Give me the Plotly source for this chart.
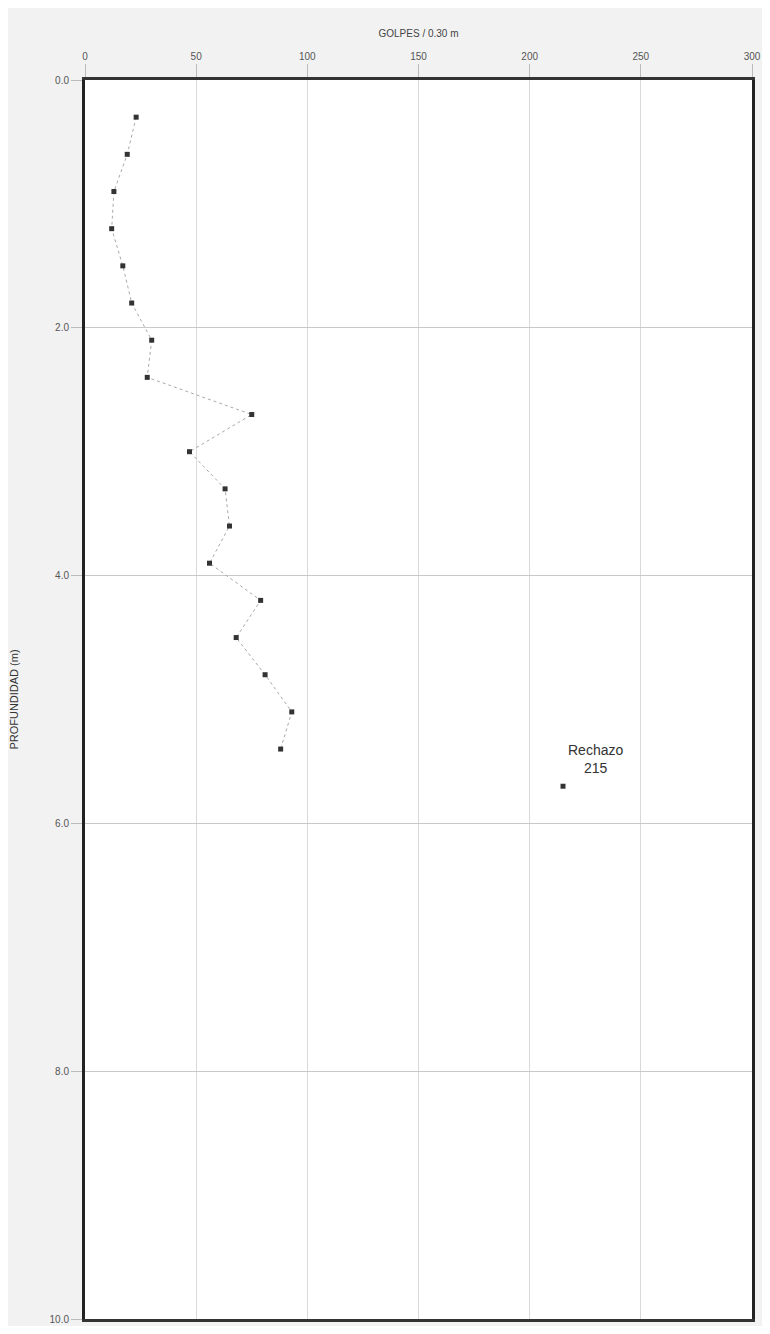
import plotly.graph_objects as go

# Data
depths = [0.3, 0.6, 0.9, 1.2, 1.5, 1.8, 2.1, 2.4, 2.7, 3.0, 3.3, 3.6, 3.9, 4.2, 4.5, 4.8, 5.1, 5.4]
golpes = [23, 19, 13, 12, 17, 21, 30, 28, 75, 47, 63, 65, 56, 79, 68, 81, 93, 88]
rechazo_depth = [5.7]
rechazo_value = [215]
rechazo_label = "Rechazo<br>215"
x_ticks = [0, 50, 100, 150, 200, 250, 300]
y_ticks = [0, 2, 4, 6, 8, 10]

fig = go.Figure()
fig.add_trace(go.Scatter(
    x=golpes, y=depths, mode="lines+markers",
    line=dict(color="#aaaaaa", width=1, dash="dot"),
    marker=dict(color="#333333", size=5, symbol="square"),
    showlegend=False, hoverinfo="skip", cliponaxis=False))
fig.add_trace(go.Scatter(
    x=rechazo_value, y=rechazo_depth, mode="markers",
    marker=dict(color="#333333", size=5, symbol="square"),
    showlegend=False, hoverinfo="skip"))

fig.add_annotation(x=rechazo_value[0], y=rechazo_depth[0], text=rechazo_label,
                   showarrow=False, xanchor="center", yanchor="bottom",
                   xshift=32, yshift=8,
                   font=dict(family="Liberation Sans, Arial", size=14, color="#333333"))

fig.update_layout(
    width=754, height=1318,
    margin=dict(l=77, r=10, t=72, b=7),
    paper_bgcolor="#f2f2f2", plot_bgcolor="#ffffff",
    font=dict(family="Liberation Sans, Arial", size=10, color="#555555"),
    xaxis=dict(side="top", range=[0, 300], tickvals=x_ticks, automargin=False,
               showgrid=True, gridcolor="#d9d9d9", gridwidth=1,
               showline=True, linecolor="#333333", linewidth=3, mirror=True,
               ticks="outside", ticklen=13, tickcolor="#bbbbbb",
               ticklabeloverflow="allow",
               title=dict(text="GOLPES / 0.30 m", standoff=12,
                          font=dict(size=10, color="#444444")),
               zeroline=False),
    yaxis=dict(range=[10, 0], tickvals=y_ticks, tickformat=".1f", automargin=False,
               showgrid=True, gridcolor="#c8c8c8", gridwidth=1,
               showline=True, linecolor="#222222", linewidth=3, mirror=True,
               ticks="outside", ticklen=11, tickcolor="#bbbbbb",
               ticklabeloverflow="allow",
               title=dict(text="PROFUNDIDAD (m)", standoff=33,
                          font=dict(size=11, color="#333333")),
               zeroline=False),
)

fig.write_html("out.html")
